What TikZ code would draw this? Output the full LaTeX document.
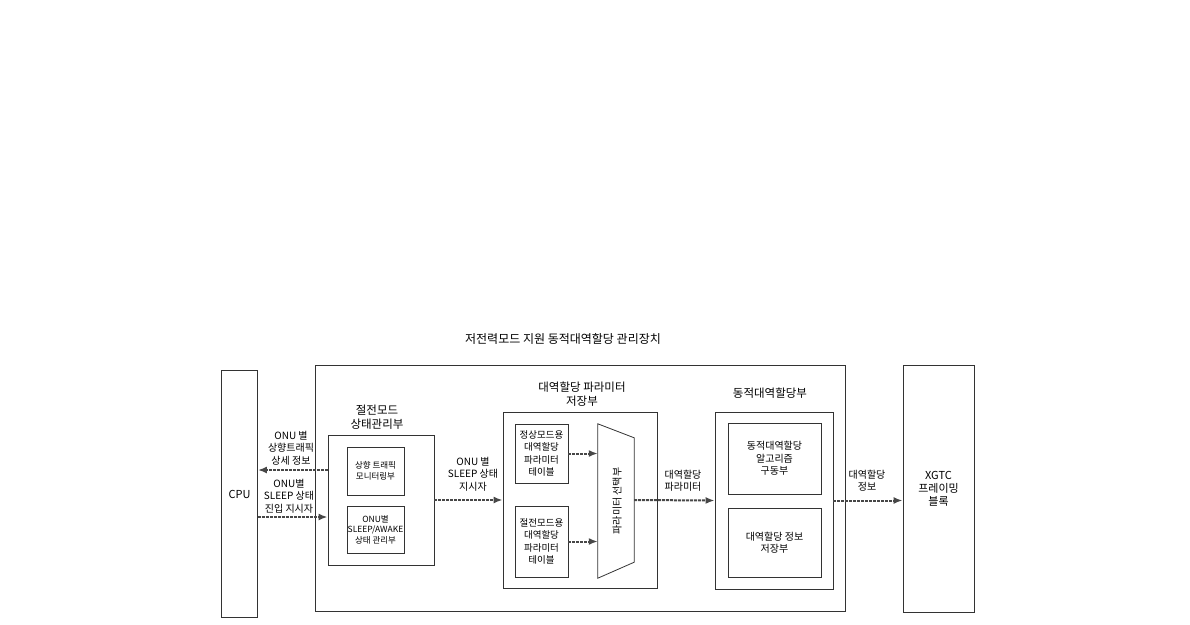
\documentclass[tikz,border=0pt]{standalone}
\usepackage{fontspec}
\setmainfont{Noto Sans CJK KR}
\usetikzlibrary{calc,arrows.meta}
\tikzset{
	blk/.style={draw=black!80, line width=0.8pt, inner sep=0pt},
	txt/.style={align=center, inner sep=0pt, font=\fontsize{10}{12.3}\selectfont},
	small/.style={align=center, inner sep=0pt, font=\fontsize{8.5}{10.5}\selectfont},
	head/.style={align=center, inner sep=0pt, font=\fontsize{11.5}{14}\selectfont},
	flow/.style={line width=2pt, color=black!72, dash pattern=on 3pt off 1pt, -{Latex[length=9pt,width=7pt]}},
}

\begin{document}
\begin{tikzpicture}[x=1pt, y=-1pt]
			%%%%% START %%%%%
			\useasboundingbox (0,0) rectangle (1190,624);
			
			\node[head, font=\fontsize{12}{14}\selectfont] (title) at (563,339) {저전력모드 지원 동적대역할당 관리장치};
			
			\node[blk, minimum width=36pt, minimum height=247pt] (cpu) at (239.5,494) {\fontsize{11}{13}\selectfont CPU};
			\node[blk, minimum width=530pt, minimum height=246pt] (main) at (580,488.5) {};
			\node[blk, minimum width=71pt, minimum height=247pt] (xgtc) at (938.5,488.5) {};
			\node[txt, font=\fontsize{11}{12.8}\selectfont] (xgtctxt) at (xgtc) {XGTC\\프레이밍\\블록};
			
			% sleep mode state manager
			\node[blk, minimum width=106pt, minimum height=130pt] (pwrmgr) at (381,500) {};
			\node[head] (pwrmgrtitle) at (377,417) {절전모드\\상태관리부};
			\node[blk, small, minimum width=57pt, minimum height=48pt] (monitor) at (375.5,471) {상향 트래픽\\모니터링부};
			\node[blk, small, minimum width=57pt, minimum height=47pt] (sleepmgr) at (375.5,529.5) {ONU별\\SLEEP/AWAKE\\상태 관리부};
			
			% parameter storage
			\node[blk, minimum width=154pt, minimum height=176pt] (store) at (580,500) {};
			\node[head] (storetitle) at (582,394) {대역할당 파라미터\\저장부};
			\node[blk, txt, font=\fontsize{9.5}{12.3}\selectfont, minimum width=53pt, minimum height=59pt] (normtab) at (541.5,453.5) {정상모드용\\대역할당\\파라미터\\테이블};
			\node[blk, txt, font=\fontsize{9.5}{12.3}\selectfont, minimum width=53pt, minimum height=71pt] (savetab) at (541.5,541.5) {절전모드용\\대역할당\\파라미터\\테이블};
			\node[minimum width=36pt, minimum height=154pt, inner sep=0pt] (mux) at (616,501) {};
			\draw[draw=black!80, line width=0.8pt] (mux.north west) -- ($(mux.north east)+(0,14)$) -- ($(mux.south east)+(0,-16)$) -- (mux.south west) -- cycle;
			\node[txt, rotate=90] (muxtxt) at (617,501) {파라미터 선택부};
			
			% dynamic bandwidth allocation
			\node[blk, minimum width=118pt, minimum height=177pt] (dba) at (774,500.5) {};
			\node[head] (dbatitle) at (770,393) {동적대역할당부};
			\node[blk, txt, minimum width=93pt, minimum height=71pt] (algo) at (774.5,458.5) {동적대역할당\\알고리즘\\구동부};
			\node[blk, txt, minimum width=93pt, minimum height=69pt] (dbastore) at (774.5,542.5) {대역할당 정보\\저장부};
			
			% connectors
			\draw[flow] ([yshift=30pt]pwrmgr.west) -- ([yshift=30pt]pwrmgr.west -| cpu.east);
			\draw[flow] ([yshift=-17pt]cpu.east |- pwrmgr.west) -- ([yshift=-17pt]pwrmgr.west);
			\draw[flow] (pwrmgr.east) -- (store.west);
			\draw[flow] (normtab.east) -- (normtab.east -| mux.west);
			\draw[flow] (savetab.east) -- (savetab.east -| mux.west);
			\draw[flow] (mux.east |- store.west) -- (dba.west);
			\draw[flow] (dba.east) -- (dba.east -| xgtc.west);
			
			\node[txt] (uplbl) at (291,448) {ONU 별\\상향트래픽\\상세 정보};
			\node[txt] (sleeplbl) at (289,496) {ONU별\\SLEEP 상태\\진입 지시자};
			\node[txt] (indlbl) at (473,474) {ONU 별\\SLEEP 상태\\지시자};
			\node[txt] (paramlbl) at (683,481) {대역할당\\파라미터};
			\node[txt] (infolbl) at (867,481) {대역할당\\정보};
			
			%%%%% END %%%%%
\end{tikzpicture}
\end{document}
